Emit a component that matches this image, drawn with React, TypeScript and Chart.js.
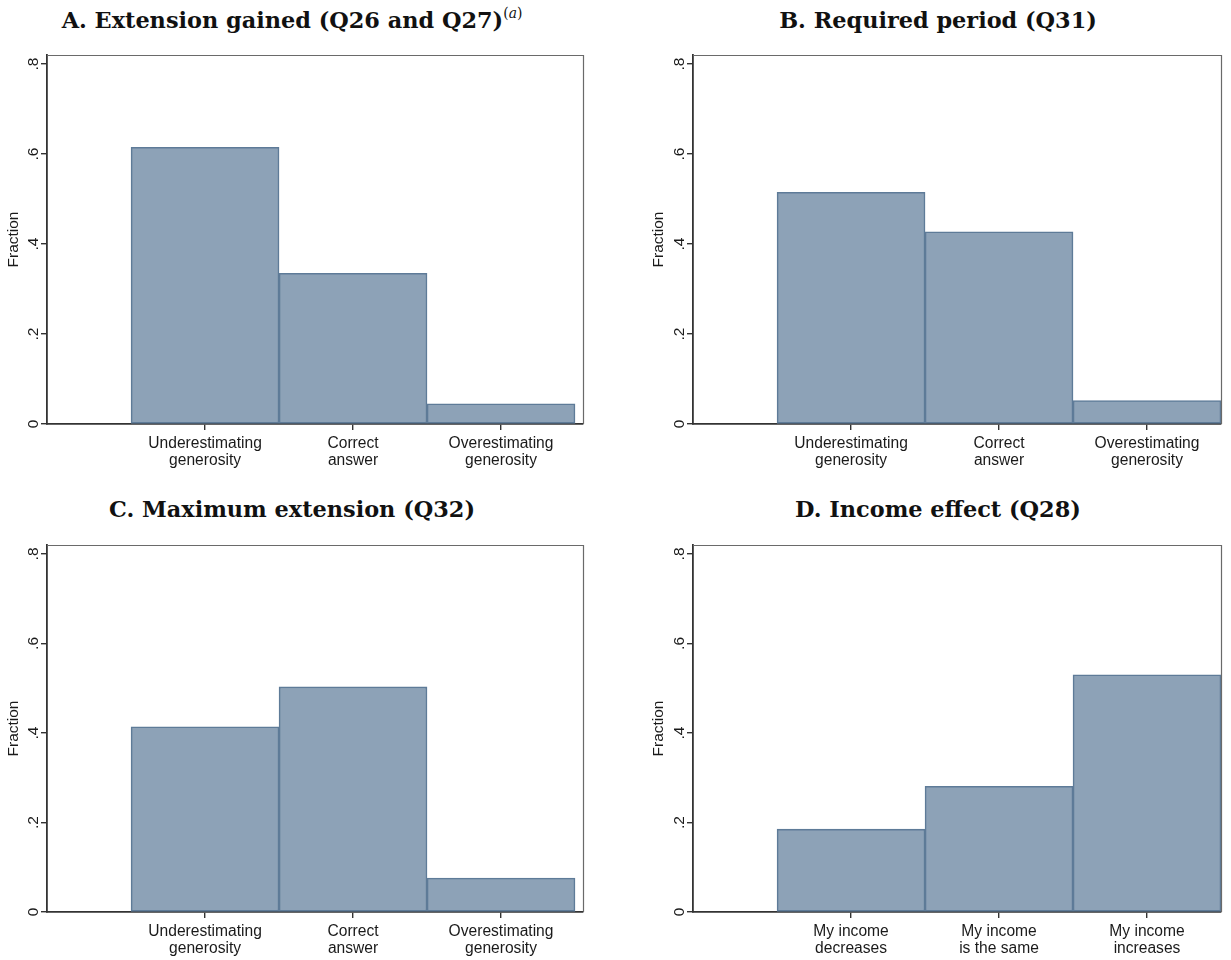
import React, { useEffect, useRef } from "react";
import { Chart, registerables } from "chart.js";

Chart.register(...registerables);

// ---- data ----
const categoriesEstimate: string[][] = [
  ["Underestimating", "generosity"],
  ["Correct", "answer"],
  ["Overestimating", "generosity"],
];
const categoriesIncome: string[][] = [
  ["My income", "decreases"],
  ["My income", "is the same"],
  ["My income", "increases"],
];
const binPositions = [1, 2, 3];
const valuesA = [0.615, 0.335, 0.045];
const valuesB = [0.515, 0.427, 0.052];
const valuesC = [0.414, 0.503, 0.076];
const valuesD = [0.185, 0.281, 0.53];
const yTickValues = [0, 0.2, 0.4, 0.6, 0.8];
const yAxisTitle = "Fraction";

const FILL = "rgb(141,162,183)";
const EDGE = "rgb(94,123,152)";
const AXIS = "#333333";
const TEXT = "#1a1a1a";
const SANS = "'Liberation Sans', Arial, sans-serif";

type PanelProps = {
  left: number;
  top: number;
  width: number;
  height: number;
  yAxisWidth: number;
  padRight: number;
  padTop: number;
  xAxisHeight: number;
  xMin: number;
  xMax: number;
  values: number[];
  labels: string[][];
};

const framePlugin = {
  id: "frame",
  afterDraw(chart: any) {
    const { ctx, chartArea } = chart;
    ctx.save();
    ctx.strokeStyle = "#6a6a6a";
    ctx.lineWidth = 1.2;
    ctx.beginPath();
    ctx.moveTo(chartArea.left, chartArea.top + 0.5);
    ctx.lineTo(chartArea.right + 0.5, chartArea.top + 0.5);
    ctx.lineTo(chartArea.right + 0.5, chartArea.bottom);
    ctx.stroke();
    ctx.restore();
  },
};

function Panel(p: PanelProps) {
  const ref = useRef<HTMLCanvasElement | null>(null);
  useEffect(() => {
    if (!ref.current) return;
    const chart = new Chart(ref.current, {
      type: "bar",
      data: {
        datasets: [
          {
            data: binPositions.map((x, i) => ({ x, y: p.values[i] })),
            backgroundColor: FILL,
            borderColor: EDGE,
            borderWidth: 1.6,
            borderSkipped: false,
            barPercentage: 1,
            categoryPercentage: 1,
          } as any,
        ],
      },
      options: {
        animation: false,
        responsive: false,
        devicePixelRatio: 1,
        layout: { padding: { top: p.padTop, right: p.padRight, left: 0, bottom: 0 } },
        plugins: {
          legend: { display: false },
          tooltip: { enabled: false },
          title: { display: false },
        },
        scales: {
          x: {
            type: "linear",
            min: p.xMin,
            max: p.xMax,
            offset: false,
            afterBuildTicks(scale: any) {
              scale.ticks = binPositions.map((v) => ({ value: v }));
            },
            afterFit(scale: any) {
              scale.height = p.xAxisHeight;
            },
            ticks: {
              autoSkip: false,
              maxRotation: 0,
              minRotation: 0,
              padding: 5,
              color: TEXT,
              font: { family: SANS, size: 15.6, lineHeight: 1.08 },
              callback: (v: any) => p.labels[binPositions.indexOf(Number(v))] ?? "",
            },
            grid: {
              display: true,
              drawOnChartArea: false,
              drawTicks: true,
              tickLength: 6,
              color: AXIS,
              lineWidth: 1.4,
              offset: false,
            },
            border: { display: true, color: AXIS, width: 1.8 },
          } as any,
          y: {
            min: 0,
            max: 0.82,
            afterBuildTicks(scale: any) {
              scale.ticks = yTickValues.map((v) => ({ value: v }));
            },
            afterFit(scale: any) {
              scale.width = p.yAxisWidth;
            },
            ticks: {
              autoSkip: false,
              minRotation: 90,
              maxRotation: 90,
              crossAlign: "center",
              padding: 1,
              color: TEXT,
              font: { family: SANS, size: 15.5 },
              callback: (v: any) => {
                const n = Number(v);
                if (n === 0) return "0";
                return String(Math.round(n * 10) / 10).replace(/^0/, "");
              },
            },
            grid: {
              display: true,
              drawOnChartArea: false,
              drawTicks: true,
              tickLength: 6,
              color: AXIS,
              lineWidth: 1.4,
            },
            border: { display: true, color: AXIS, width: 1.8 },
            title: {
              display: true,
              text: yAxisTitle,
              color: TEXT,
              font: { family: SANS, size: 15.5 },
              padding: { top: 4, bottom: 0 },
            },
          } as any,
        },
      },
      plugins: [framePlugin],
    });
    return () => chart.destroy();
  }, []);
  return (
    <canvas
      ref={ref}
      width={p.width}
      height={p.height}
      style={{ position: "absolute", left: p.left, top: p.top, width: p.width, height: p.height }}
    />
  );
}

const titleStyle = (left: number, top: number, width: number): React.CSSProperties => ({
  position: "absolute",
  left,
  top,
  width,
  textAlign: "center",
  fontFamily: "'DejaVu Serif', 'Liberation Serif', serif",
  fontWeight: "bold",
  fontSize: 22.4,
  lineHeight: "26px",
  color: "#111",
  whiteSpace: "nowrap",
});

export default function App() {
  return (
    <div style={{ position: "absolute", left: 0, top: 0, width: 1231, height: 960, background: "#fff" }}>
      <div style={titleStyle(0, 7, 584)}>
        A. Extension gained (Q26 and Q27)
        <sup style={{ fontWeight: "normal", fontSize: "0.62em", lineHeight: 0, verticalAlign: "0.75em" }}>
          (<i>a</i>)
        </sup>
      </div>
      <div style={titleStyle(645, 7, 586)}>B. Required period (Q31)</div>
      <div style={titleStyle(0, 496, 584)}>C. Maximum extension (Q32)</div>
      <div style={titleStyle(645, 496, 586)}>D. Income effect (Q28)</div>

      <Panel left={0} top={40} width={615} height={430} yAxisWidth={47} padRight={32} padTop={15}
        xAxisHeight={46} xMin={-0.068} xMax={3.554} values={valuesA} labels={categoriesEstimate} />
      <Panel left={645} top={40} width={586} height={430} yAxisWidth={48} padRight={10} padTop={15}
        xAxisHeight={46} xMin={-0.068} xMax={3.5} values={valuesB} labels={categoriesEstimate} />
      <Panel left={0} top={530} width={615} height={430} yAxisWidth={47} padRight={32} padTop={15}
        xAxisHeight={48} xMin={-0.068} xMax={3.554} values={valuesC} labels={categoriesEstimate} />
      <Panel left={645} top={530} width={586} height={430} yAxisWidth={48} padRight={10} padTop={15}
        xAxisHeight={48} xMin={-0.068} xMax={3.5} values={valuesD} labels={categoriesIncome} />
    </div>
  );
}
